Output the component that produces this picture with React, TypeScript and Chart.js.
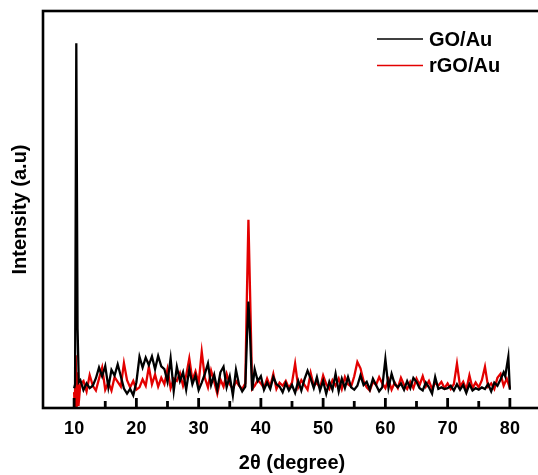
import React, { useEffect, useRef } from "react";
import { Chart, registerables } from "chart.js";

Chart.register(...registerables);

const seriesLabels = ["GO/Au", "rGO/Au"];
const seriesColors = ["#000000", "#e30000"];

// GO/Au (black)
const goTheta = [
  10, 10.15, 10.35, 10.55, 10.75, 11, 11.5, 12, 12.5, 13, 13.5, 14, 14.5, 15, 15.5, 16, 16.5, 17, 17.5,
  18, 18.5, 19, 19.5, 20, 20.5, 21, 21.5, 22, 22.5, 23, 23.5, 24, 24.5, 25, 25.5, 26, 26.5, 27, 27.5,
  28, 28.5, 29, 29.5, 30, 30.5, 31, 31.5, 32, 32.5, 33, 33.5, 34, 34.5, 35, 35.5, 36, 36.5, 37, 37.5,
  37.75, 38, 38.25, 38.6, 39, 39.5, 40, 40.5, 41, 41.5, 42, 42.5, 43, 43.5, 44, 44.5, 45, 45.5, 46, 46.5,
  47, 47.5, 48, 48.5, 49, 49.5, 50, 50.5, 51, 51.5, 52, 52.5, 53, 53.5, 54, 54.5, 55, 55.5, 56, 56.5,
  57, 57.5, 58, 58.5, 59, 59.5, 60, 60.5, 61, 61.5, 62, 62.5, 63, 63.5, 64, 64.5, 65, 65.5, 66, 66.5,
  67, 67.5, 68, 68.5, 69, 69.5, 70, 70.5, 71, 71.5, 72, 72.5, 73, 73.5, 74, 74.5, 75, 75.5, 76, 76.5,
  77, 77.5, 78, 78.5, 79, 79.25, 79.5, 79.75, 80,
];
const goIntensity = [
  5.0, 6.0, 91.9, 20, 6.5, 7.0, 4.5, 6.2, 5.0, 5.6, 7.5, 10.2, 8.0, 10.6, 5.2, 9.6, 8.2, 11.0, 8.0,
  4.9, 3.6, 4.8, 3.2, 6.5, 12.9, 10.2, 12.7, 10.8, 13.0, 9.8, 13.1, 10.5, 9.8, 6.6, 12.5, 4.3, 10.4, 6.8, 9.0,
  4.6, 9.8, 6.0, 8.2, 4.5, 6.4, 8.6, 11.2, 5.8, 8.4, 4.6, 9.0, 10.4, 5.2, 8.0, 3.2, 9.6, 5.8, 4.2, 5.4,
  17, 26.8, 19, 4.4, 9.8, 6.8, 8.0, 4.6, 6.4, 4.8, 7.8, 6.0, 5.4, 4.0, 6.2, 4.4, 5.8, 3.8, 6.8, 4.4,
  7.2, 9.4, 7.4, 5.0, 7.8, 4.4, 6.8, 3.6, 6.6, 4.6, 8.6, 4.2, 7.4, 5.0, 7.8, 5.2, 4.6, 5.6, 8.2, 5.8,
  6.6, 4.6, 7.4, 5.8, 4.2, 5.2, 12.3, 5.0, 8.6, 6.0, 5.2, 6.2, 4.6, 6.8, 5.0, 7.6, 6.6, 5.0, 4.4, 6.4,
  5.2, 3.6, 7.8, 4.8, 5.2, 4.8, 5.0, 5.6, 4.4, 6.0, 4.6, 5.8, 3.8, 6.0, 4.4, 5.0, 4.6, 5.2, 4.8, 6.0,
  4.2, 6.4, 5.6, 7.2, 9.0, 8.0, 10.5, 12.9, 4.6,
];

// rGO/Au (red)
const rgoTheta = [
  10, 10.1, 10.25, 10.4, 10.55, 10.7, 11, 11.5, 12, 12.5, 13, 13.5, 14, 14.5, 15, 15.5, 16, 16.5, 17, 17.5,
  18, 18.5, 19, 19.5, 20, 20.5, 21, 21.5, 22, 22.5, 23, 23.5, 24, 24.5, 25, 25.5, 26, 26.5, 27, 27.5,
  28, 28.5, 29, 29.5, 30, 30.5, 31, 31.5, 32, 32.5, 33, 33.5, 34, 34.5, 35, 35.5, 36, 36.5, 37, 37.5,
  37.75, 38, 38.25, 38.6, 39, 39.5, 40, 40.5, 41, 41.5, 42, 42.5, 43, 43.5, 44, 44.5, 45, 45.5, 46, 46.5,
  47, 47.5, 48, 48.5, 49, 49.5, 50, 50.5, 51, 51.5, 52, 52.5, 53, 53.5, 54, 54.5, 55, 55.5, 56, 56.5,
  57, 57.5, 58, 58.5, 59, 59.5, 60, 60.5, 61, 61.5, 62, 62.5, 63, 63.5, 64, 64.5, 65, 65.5, 66, 66.5,
  67, 67.5, 68, 68.5, 69, 69.5, 70, 70.5, 71, 71.5, 72, 72.5, 73, 73.5, 74, 74.5, 75, 75.5, 76, 76.5,
  77, 77.5, 78, 78.5, 79, 79.5, 80,
];
const rgoIntensity = [
  4.0, 0, 13.3, 0, 9.0, 0.5, 6.0, 6.8, 4.2, 8.3, 5.6, 4.4, 7.4, 10.2, 4.6, 6.4, 4.4, 7.8, 6.6, 5.4,
  11.3, 7.0, 5.2, 6.8, 4.6, 5.2, 7.2, 5.6, 10.4, 6.0, 8.4, 5.4, 7.6, 6.0, 9.8, 5.0, 7.4, 6.8, 8.8, 5.6,
  8.2, 12.5, 7.0, 9.2, 6.2, 14.2, 7.6, 5.2, 9.4, 6.6, 3.6, 7.2, 5.4, 8.6, 6.0, 4.8, 6.8, 5.6, 4.8, 6.2,
  28, 47.4, 30, 4.8, 5.6, 7.0, 6.2, 5.0, 7.4, 5.4, 8.6, 4.8, 6.4, 5.6, 6.8, 5.0, 6.4, 11.2, 5.2, 7.0,
  5.8, 4.6, 8.8, 5.6, 6.4, 5.0, 8.2, 6.0, 4.8, 7.0, 5.6, 7.4, 4.8, 7.8, 6.0, 5.4, 8.0, 11.6, 10.0, 6.8,
  5.2, 4.4, 6.6, 5.8, 7.8, 6.2, 5.0, 7.2, 4.6, 6.4, 5.0, 7.6, 5.8, 4.8, 6.6, 5.0, 7.4, 5.8, 8.0, 5.4,
  6.8, 4.8, 6.4, 5.6, 6.6, 5.0, 6.2, 4.8, 6.0, 11.2, 5.4, 6.6, 4.6, 8.2, 5.0, 6.4, 5.2, 7.0, 10.4, 5.4,
  6.2, 4.8, 7.6, 8.6, 5.6, 7.4, 5.0,
];

const xTickLabels = [10, 20, 30, 40, 50, 60, 70, 80];
const xMinorTicks = [15, 25, 35, 45, 55, 65, 75];

const FONT = "'Liberation Sans', Arial, Helvetica, sans-serif";

export default function App() {
  const ref = useRef<HTMLCanvasElement>(null);

  useEffect(() => {
    const canvas = ref.current;
    if (!canvas) return;

    const framePlugin = {
      id: "frameAndLegend",
      afterDraw(chart: any) {
        const { ctx, chartArea } = chart;
        const { left, top, right, bottom } = chartArea;
        const xs = chart.scales.x;
        ctx.save();
        // frame
        ctx.strokeStyle = "#000";
        ctx.lineWidth = 2.6;
        ctx.strokeRect(left, top, right - left, bottom - top);
        // inward tick marks
        ctx.fillStyle = "#000";
        xTickLabels.forEach((v) => {
          const px = xs.getPixelForValue(v);
          ctx.fillRect(px - 1.4, bottom - 10, 2.8, 10);
        });
        xMinorTicks.forEach((v) => {
          const px = xs.getPixelForValue(v);
          ctx.fillRect(px - 1.4, bottom - 7, 2.8, 7);
        });
        // legend
        ctx.font = `bold 20px ${FONT}`;
        ctx.textBaseline = "middle";
        ctx.textAlign = "left";
        chart.data.datasets.forEach((ds: any, i: number) => {
          const y = 39 + i * 26.5;
          ctx.strokeStyle = ds.borderColor;
          ctx.lineWidth = 1.6;
          ctx.beginPath();
          ctx.moveTo(377, y);
          ctx.lineTo(423, y);
          ctx.stroke();
          ctx.fillStyle = "#000";
          ctx.fillText(ds.label, 429, y + 1);
        });
        ctx.restore();
      },
    };

    const chart = new Chart(canvas, {
      type: "line",
      data: {
        datasets: [
          {
            label: seriesLabels[0],
            data: goTheta.map((x, i) => ({ x, y: goIntensity[i] })),
            borderColor: seriesColors[0],
            borderWidth: 2.3,
            pointRadius: 0,
            tension: 0,
          },
          {
            label: seriesLabels[1],
            data: rgoTheta.map((x, i) => ({ x, y: rgoIntensity[i] })),
            borderColor: seriesColors[1],
            borderWidth: 2.3,
            pointRadius: 0,
            tension: 0,
          },
        ],
      },
      options: {
        responsive: false,
        animation: false,
        devicePixelRatio: 1,
        layout: { padding: { top: 11, right: 4, left: 0, bottom: 0 } },
        plugins: {
          legend: { display: false },
          tooltip: { enabled: false },
        },
        scales: {
          x: {
            type: "linear",
            min: 5,
            max: 85,
            grid: { display: false, drawTicks: false },
            border: { display: false },
            ticks: {
              color: "#000",
              font: { family: FONT, size: 18, weight: "bold" },
              padding: 10,
              maxRotation: 0,
            },
            afterBuildTicks: (s: any) => {
              s.ticks = xTickLabels.map((v) => ({ value: v }));
            },
            afterFit: (s: any) => {
              s.height = 67;
            },
            title: {
              display: true,
              text: "2θ (degree)",
              color: "#000",
              font: { family: FONT, size: 20, weight: "bold" },
              padding: 0,
            },
          },
          y: {
            type: "linear",
            min: 0,
            max: 100,
            grid: { display: false, drawTicks: false },
            border: { display: false },
            ticks: { display: false },
            afterFit: (s: any) => {
              s.width = 43;
            },
            title: {
              display: true,
              text: "Intensity (a.u)",
              color: "#000",
              font: { family: FONT, size: 20, weight: "bold" },
              padding: { top: 8, bottom: 0 },
            },
          },
        },
      },
      plugins: [framePlugin],
    });

    return () => chart.destroy();
  }, []);

  return (
    <div
      style={{
        position: "fixed",
        left: 0,
        top: 0,
        width: 538,
        height: 475,
        overflow: "hidden",
        background: "#fff",
      }}
    >
      <canvas ref={ref} width={545} height={475} style={{ display: "block", width: 545, height: 475 }} />
    </div>
  );
}
